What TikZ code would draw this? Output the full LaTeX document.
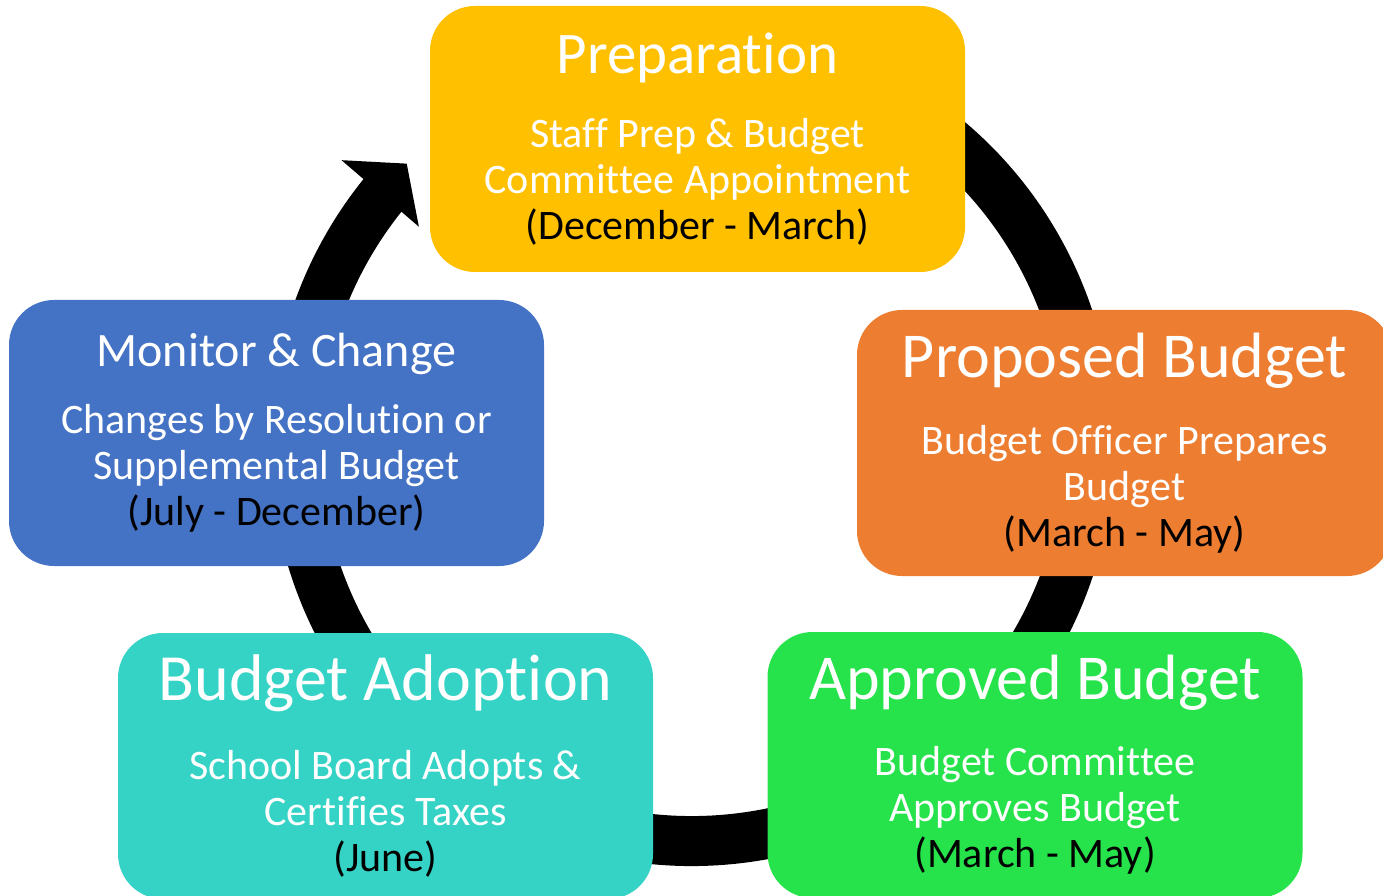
\documentclass[tikz,border=0pt]{standalone}
\usepackage{fontspec}
\setmainfont{Carlito}[Ligatures=CommonOff]

\definecolor{prepyellow}{RGB}{255,192,0}
\definecolor{proporange}{RGB}{237,125,49}
\definecolor{apprgreen}{RGB}{38,226,75}
\definecolor{adoptteal}{RGB}{53,211,197}
\definecolor{monblue}{RGB}{68,114,196}

\tikzset{
  stage/.style={rounded corners=45pt, minimum width=535pt, minimum height=266pt,
    inner sep=0pt, text=white, align=center, font=\fontsize{42}{46}\selectfont},
  ring/.style={line width=50pt},
}
\newcommand{\stagetitle}[2]{{\fontsize{#1}{#1}\selectfont #2}}
\newcommand{\months}[1]{\textcolor{black}{#1}}

\begin{document}
\begin{tikzpicture}[x=1pt, y=1pt]

\useasboundingbox (0,0) rectangle (1383,895);
\clip (0,0) rectangle (1383,895);

% Define centre of the cycle ring
\coordinate (ctr) at (692,451);

% Draw ring with arrow head (behind the boxes)
\begin{scope}[shift={(ctr)}]
  \draw[ring] (60:397) arc[start angle=60, end angle=-219, radius=397];
  \fill (141:451) -- (135.5:400) -- (141.5:349) -- cycle;
\end{scope}

% Stages
\node[stage, fill=prepyellow] (prep) at (697.5,756)
  {\stagetitle{59}{Preparation}\\[28pt]
   Staff Prep \& Budget\\ Committee Appointment\\ \months{(December - March)}};

\node[stage, fill=proporange] (prop) at (1124.5,452)
  {\stagetitle{64}{Proposed Budget}\\[31pt]
   Budget Officer Prepares\\ Budget\\ \months{(March - May)}};

\node[stage, fill=apprgreen] (appr) at (1035,130)
  {\stagetitle{64}{Approved Budget}\\[30pt]
   Budget Committee\\ Approves Budget\\ \months{(March - May)}};

\node[stage, fill=adoptteal] (adopt) at (385.5,129)
  {\stagetitle{66}{Budget Adoption}\\[33pt]
   School Board Adopts \&\\ Certifies Taxes\\ \months{(June)}};

\node[stage, fill=monblue] (mon) at (276.5,462)
  {\stagetitle{48}{Monitor \& Change}\\[21pt]
   Changes by Resolution or\\ Supplemental Budget\\ \months{(July - December)}};

\end{tikzpicture}
\end{document}
